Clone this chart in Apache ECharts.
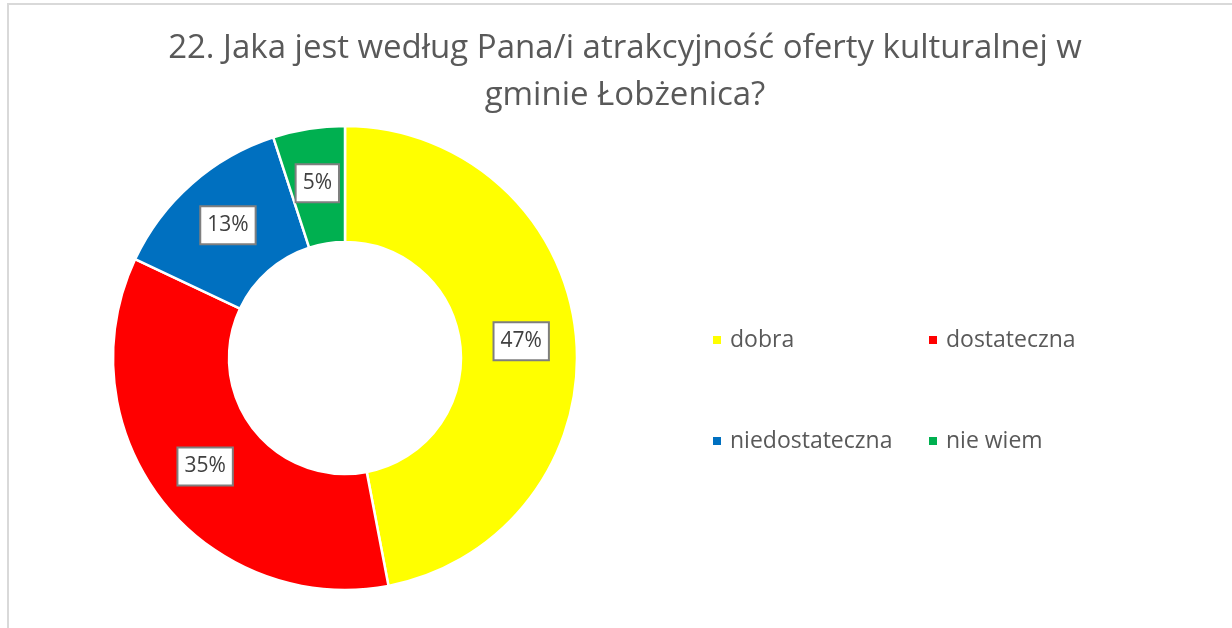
<!DOCTYPE html>
<html>
<head>
<meta charset="utf-8">
<script src="https://cdn.jsdelivr.net/npm/echarts@6/dist/echarts.min.js"></script>
<style>
  html, body { margin: 0; padding: 0; background: #fff; }
  #frame { position: absolute; left: 7px; top: 3px; width: 1225px; height: 625px;
           border-left: 2px solid #d9d9d9; border-top: 2px solid #d9d9d9; box-sizing: border-box; }
  #chart { position: absolute; left: 0; top: 0; width: 1232px; height: 628px; }
</style>
</head>
<body>
<div id="frame"></div>
<div id="chart"></div>
<script>
// Survey answers (percent of respondents)
const categories = ['dobra', 'dostateczna', 'niedostateczna', 'nie wiem'];
const shares = [47, 35, 13, 5];
const colors = ['#FFFF00', '#FF0000', '#0070C0', '#00B050'];
const titleText = '22. Jaka jest według Pana/i atrakcyjność oferty kulturalnej w\ngminie Łobżenica?';

const chart = echarts.init(document.getElementById('chart'), null, { renderer: 'canvas' });

const legendText = {
  fontFamily: 'Open Sans', fontSize: 23, color: '#595959', lineHeight: 24, padding: [0, 0, 0, 3]
};

chart.setOption({
  animation: false,
  backgroundColor: 'transparent',
  title: {
    text: titleText,
    left: 620, top: 20, textAlign: 'center',
    textStyle: { fontFamily: 'Open Sans', fontWeight: 'normal', fontSize: 33, color: '#595959', lineHeight: 47 }
  },
  legend: [
    {
      data: [categories[0], categories[2]],
      orient: 'vertical', left: 706, top: 323, itemGap: 77,
      icon: 'rect', itemWidth: 10, itemHeight: 10,
      textStyle: legendText
    },
    {
      data: [categories[1], categories[3]],
      orient: 'vertical', left: 922, top: 323, itemGap: 77,
      icon: 'rect', itemWidth: 10, itemHeight: 10,
      textStyle: legendText
    }
  ],
  series: [{
    type: 'pie',
    center: [345, 358],
    radius: [116, 232],
    startAngle: 90,
    clockwise: true,
    silent: true,
    itemStyle: { borderColor: '#fff', borderWidth: 2.5 },
    label: {
      show: true,
      position: 'inside',
      formatter: '{c}%',
      fontFamily: 'Open Sans', fontSize: 21, color: '#404040',
      backgroundColor: '#fff', borderColor: '#7f7f7f', borderWidth: 2,
      padding: [9, 6, 6, 6]
    },
    labelLine: { show: false },
    data: categories.map((name, i) => ({
      name, value: shares[i], itemStyle: { color: colors[i] }
    }))
  }]
});
</script>
</body>
</html>
